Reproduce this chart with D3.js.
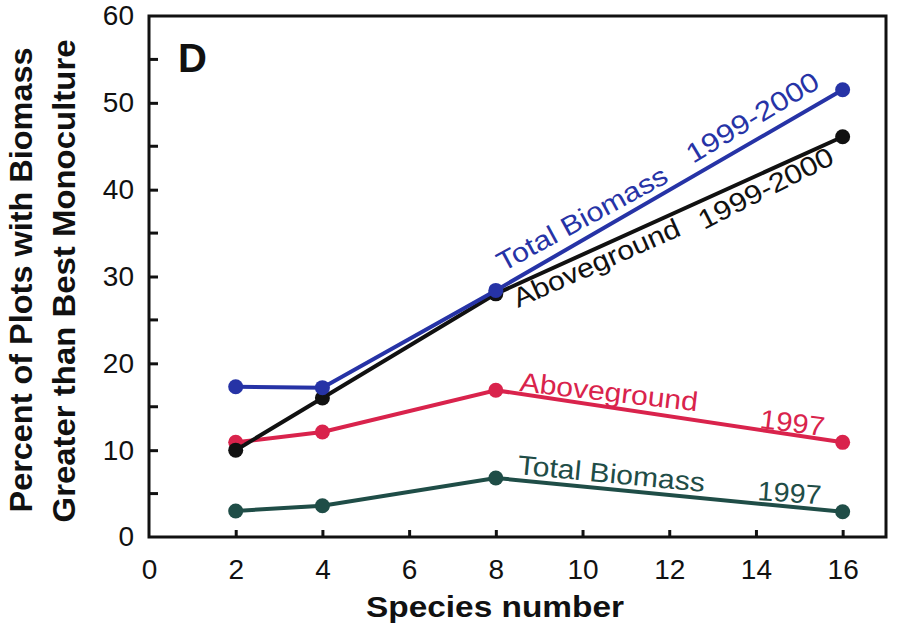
<!DOCTYPE html>
<html>
<head>
<meta charset="utf-8">
<script src="https://cdn.jsdelivr.net/npm/d3@7"></script>
<style>
  body { margin: 0; background: #fff; }
  text { font-family: "Liberation Sans", Arial, sans-serif; }
</style>
</head>
<body>
<div id="chart"></div>
<script>
const width = 900;
const height = 636;
const margin = { top: 16, right: 14, bottom: 99, left: 149 };
const innerW = width - margin.left - margin.right;
const innerH = height - margin.top - margin.bottom;

// species number
const species = [2, 4, 8, 16];
// percent of plots with biomass greater than best monoculture
const totalBiomass9900 = [17.3, 17.2, 28.4, 51.5];
const aboveground9900 = [10.0, 16.0, 28.0, 46.1];
const aboveground97 = [10.9, 12.1, 16.9, 10.9];
const totalBiomass97 = [3.0, 3.6, 6.8, 2.9];

const xTicks = [0, 2, 4, 6, 8, 10, 12, 14, 16];
const yTicks = [0, 10, 20, 30, 40, 50, 60];
const yMinorTicks = [5, 15, 25, 35, 45, 55];

const seriesList = [
    { name: "totalBiomass97", values: totalBiomass97, color: "#1f4d47" },
    { name: "aboveground97", values: aboveground97, color: "#d9234c" },
    { name: "aboveground9900", values: aboveground9900, color: "#111111" },
    { name: "totalBiomass9900", values: totalBiomass9900, color: "#2633a6" }
];

const svg = d3.select("#chart")
    .append("svg")
    .attr("width", width)
    .attr("height", height)
    .append("g")
    .attr("transform", `translate(${margin.left}, ${margin.top})`);

const xScale = d3.scaleLinear().domain([0, 17]).range([0, innerW]);
const yScale = d3.scaleLinear().domain([0, 60]).range([innerH, 0]);

// frame
svg.append("rect")
    .attr("x", 0).attr("y", 0)
    .attr("width", innerW).attr("height", innerH)
    .attr("fill", "none")
    .attr("stroke", "#111")
    .attr("stroke-width", 3);

// x axis, ticks pointing inward
const xAxis = d3.axisBottom(xScale)
    .tickValues(xTicks)
    .tickSize(-7)
    .tickPadding(22)
    .tickFormat(d3.format("d"));

const gx = svg.append("g")
    .attr("transform", `translate(0, ${innerH})`)
    .call(xAxis);
gx.select(".domain").remove();
gx.selectAll(".tick line")
    .attr("stroke", "#111")
    .attr("stroke-width", 3)
    .filter(d => d === 0).remove();
gx.selectAll(".tick text")
    .attr("font-size", 28)
    .attr("fill", "#111");

// y axis
const yAxis = d3.axisLeft(yScale)
    .tickValues(yTicks)
    .tickSize(-9)
    .tickPadding(15)
    .tickFormat(d3.format("d"));

const gy = svg.append("g").call(yAxis);
gy.select(".domain").remove();
gy.selectAll(".tick line")
    .attr("stroke", "#111")
    .attr("stroke-width", 3)
    .filter(d => d === 0 || d === 60).remove();
gy.selectAll(".tick text")
    .attr("font-size", 28)
    .attr("fill", "#111");

svg.append("g")
    .selectAll("line")
    .data(yMinorTicks)
    .join("line")
    .attr("x1", 0).attr("x2", 9)
    .attr("y1", d => yScale(d)).attr("y2", d => yScale(d))
    .attr("stroke", "#111")
    .attr("stroke-width", 3);

// lines and markers
const line = d3.line()
    .x((d, i) => xScale(species[i]))
    .y(d => yScale(d));

seriesList.forEach(s => {
    svg.append("path")
        .datum(s.values)
        .attr("d", line)
        .attr("fill", "none")
        .attr("stroke", s.color)
        .attr("stroke-width", 4);

    svg.append("g")
        .selectAll("circle")
        .data(s.values)
        .join("circle")
        .attr("cx", (d, i) => xScale(species[i]))
        .attr("cy", d => yScale(d))
        .attr("r", 7.5)
        .attr("fill", s.color);
});

// line labels (page coordinates)
function slopeLabel(text, color, x, y, angle, len) {
    svg.append("text")
        .attr("transform", `translate(${x - margin.left}, ${y - margin.top}) rotate(${angle})`)
        .attr("font-size", 27)
        .attr("fill", color)
        .attr("textLength", len)
        .attr("lengthAdjust", "spacingAndGlyphs")
        .text(text);
}

slopeLabel("Total Biomass", "#2633a6", 503, 272, -28.5, 190);
slopeLabel("1999-2000", "#2633a6", 693, 164, -31, 150);
slopeLabel("Aboveground", "#111", 518, 308, -24, 180);
slopeLabel("1999-2000", "#111", 704, 230, -27, 148);
slopeLabel("Aboveground", "#d9234c", 519, 391, 6.5, 179);
slopeLabel("1997", "#d9234c", 759, 428, 7, 65);
slopeLabel("Total Biomass", "#1f4d47", 517, 474, 5.5, 188);
slopeLabel("1997", "#1f4d47", 757, 500, 4, 64);

// panel letter
svg.append("text")
    .attr("x", 178 - margin.left).attr("y", 72 - margin.top)
    .attr("font-size", 40)
    .attr("font-weight", "bold")
    .attr("fill", "#111")
    .text("D");

// axis titles
svg.append("text")
    .attr("x", 495 - margin.left)
    .attr("y", 617 - margin.top)
    .attr("text-anchor", "middle")
    .attr("font-size", 29)
    .attr("font-weight", "bold")
    .attr("textLength", 258)
    .attr("lengthAdjust", "spacingAndGlyphs")
    .attr("fill", "#111")
    .text("Species number");

svg.append("text")
    .attr("transform", `translate(${32 - margin.left}, ${280 - margin.top}) rotate(-90)`)
    .attr("text-anchor", "middle")
    .attr("font-size", 31)
    .attr("font-weight", "bold")
    .attr("textLength", 465)
    .attr("lengthAdjust", "spacingAndGlyphs")
    .attr("fill", "#111")
    .text("Percent of Plots with Biomass");

svg.append("text")
    .attr("transform", `translate(${75 - margin.left}, ${281 - margin.top}) rotate(-90)`)
    .attr("text-anchor", "middle")
    .attr("font-size", 31)
    .attr("font-weight", "bold")
    .attr("textLength", 483)
    .attr("lengthAdjust", "spacingAndGlyphs")
    .attr("fill", "#111")
    .text("Greater than Best Monoculture");
</script>
</body>
</html>
